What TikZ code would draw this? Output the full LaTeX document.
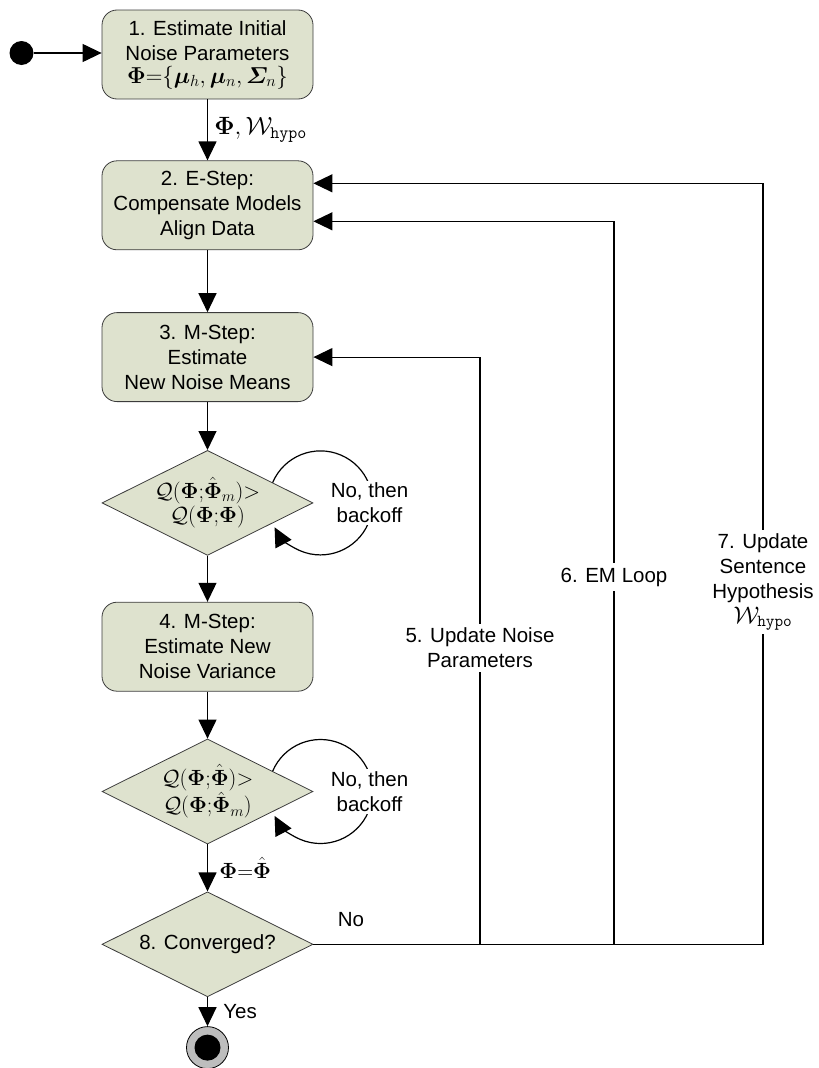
\RequirePackage{fix-cm}
\documentclass[tikz,border=0pt]{standalone}
\usepackage{amsmath,bm}
\usepackage[no-math]{fontspec}
\setmainfont{Liberation Sans}
\usetikzlibrary{arrows.meta,positioning,shapes.geometric,calc}
\definecolor{boxFill}{HTML}{DEE2CE}
\definecolor{boxLine}{HTML}{3C3C3C}
\definecolor{endGray}{HTML}{BDBDBD}

\begin{document}
\begin{tikzpicture}[x=1pt,y=1pt,every node/.style={font=\fontsize{20.5}{25}\selectfont}]
      \tikzstyle{stage}=[draw=boxLine,fill=boxFill,rounded corners=15pt,line width=0.8pt,
                         minimum height=89pt,minimum width=211pt,align=center]
      \tikzstyle{test}=[draw=boxLine,fill=boxFill,diamond,aspect=2,inner sep=0pt,line width=0.8pt,
                        minimum height=105pt,minimum width=211pt,align=center,
                        font=\fontsize{22}{24}\selectfont]
      \tikzstyle{note}=[fill=white,align=center,inner sep=2pt]
      \tikzstyle{flow}=[-{Triangle[length=19pt,width=18pt]},line width=1.2pt]
      \useasboundingbox (0,0) rectangle (819,-1068);
      \node[stage] (b1) at (207.5,-54.5) {1. Estimate Initial\\Noise Parameters\\[-2pt]
            {\fontsize{23}{25}\selectfont$\bm{\Phi}{=}\{\bm{\mu}_h,\bm{\mu}_n,\bm{\varSigma}_n\}$}};
      \node[stage,below=61pt of b1] (b2) {2. E-Step:\\Compensate Models\\Align Data};
      \node[stage,below=62pt of b2] (b3) {3. M-Step:\\Estimate\\New Noise Means};
      \node[test,below=48pt of b3] (q1) {$\mathcal{Q}(\bm{\Phi}{;}\hat{\bm{\Phi}}_m){>}$\\$\mathcal{Q}(\bm{\Phi}{;}\bm{\Phi})$};
      \node[stage,below=46pt of q1] (b4) {4. M-Step:\\Estimate New\\Noise Variance};
      \node[test,below=47pt of b4] (q2) {$\mathcal{Q}(\bm{\Phi}{;}\hat{\bm{\Phi}}){>}$\\$\mathcal{Q}(\bm{\Phi}{;}\hat{\bm{\Phi}}_m)$};
      \node[test,below=47pt of q2,font=\fontsize{20.5}{25}\selectfont] (q3) {8. Converged?};
      \node[circle,draw=black,fill=endGray,line width=0.8pt,minimum size=42pt,inner sep=0pt,
            below=29pt of q3] (e) {};
      \node[circle,fill=black,minimum size=26pt,inner sep=0pt] (ein) at (e) {};
      \node[circle,fill=black,minimum size=24pt,inner sep=0pt] (s) at (21.5,-53) {};
      \draw[flow] (s) -- (s -| b1.west);
      \draw[flow] (b1) -- node[right,midway,xshift=3pt,font=\fontsize{25}{28}\selectfont] (l1)
            {$\bm{\Phi},\mathcal{W}_{\mathtt{hypo}}$} (b2);
      \draw[flow] (b2) -- (b3);
      \draw[flow] (b3) -- (q1);
      \draw[flow] (q1) -- (b4);
      \draw[flow] (b4) -- (q2);
      \draw[flow] (q2) -- node[right,midway,xshift=8pt,font=\fontsize{22}{24}\selectfont] (l2)
            {$\bm{\Phi}{=}\hat{\bm{\Phi}}$} (q3);
      \draw[flow] (q3) -- node[right,midway,xshift=12pt] (l3) {Yes} (e);
      % backoff loops
      \coordinate (o1) at ($(q1.center)+(113,0)$);
      \coordinate (o2) at ($(q2.center)+(113,0)$);
      \draw[flow] (o1) ++(157:52) arc[start angle=157,end angle=-152,radius=52];
      \draw[flow] (o2) ++(157:52) arc[start angle=157,end angle=-152,radius=52];
      \node[note] (n1) at ($(q1.center)+(162,0)$) {No, then\\backoff};
      \node[note] (n2) at ($(q2.center)+(162,0)$) {No, then\\backoff};
      % feedback lines
      \coordinate (c5) at (480,0);
      \coordinate (c6) at (614,0);
      \coordinate (c7) at (763,0);
      \coordinate (in6) at ([yshift=-16pt]b2.east);
      \coordinate (in7) at ([yshift=22pt]b2.east);
      \draw[flow] (q3.east) -| (c5 |- b3.east) -- (b3.east);
      \draw[flow] (q3.east) -| (c6 |- in6) -- (in6);
      \draw[flow] (q3.east) -| (c7 |- in7) -- (in7);
      \node (no) at (351,-920) {No};
      \node[note,inner sep=4pt] (l5) at (480,-648) {5. Update Noise\\Parameters};
      \node[note,inner sep=5pt] (l6) at (614,-577) {6. EM Loop};
      \node[note,inner sep=3pt] (l7) at (763,-582) {7. Update\\Sentence\\Hypothesis\\
            {\fontsize{24}{25}\selectfont$\mathcal{W}_{\mathtt{hypo}}$}};
    \end{tikzpicture}
\end{document}
